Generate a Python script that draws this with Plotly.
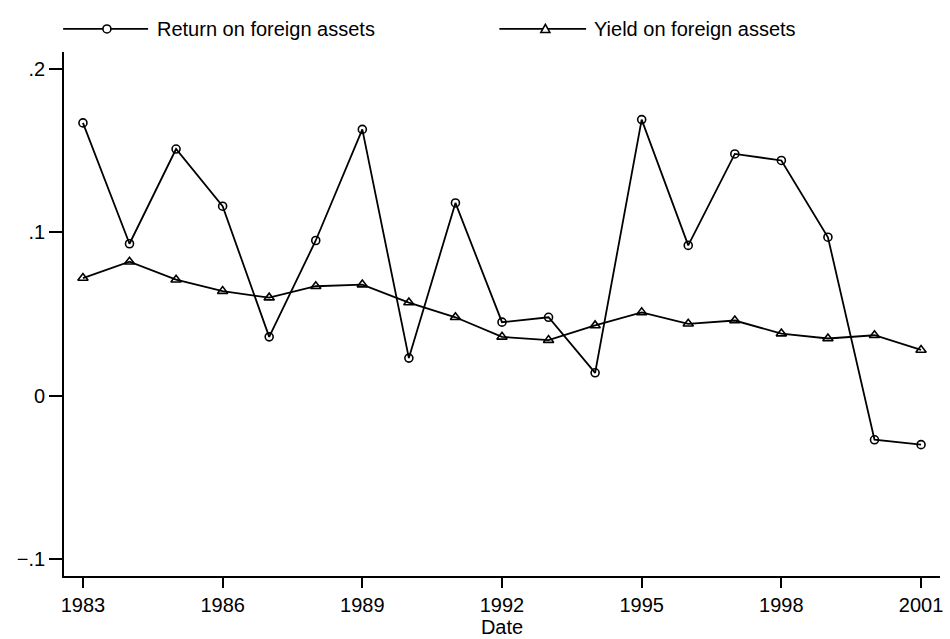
import plotly.graph_objects as go

# Annual series, 1983-2001
years = list(range(1983, 2002))
return_foreign = [0.167, 0.093, 0.151, 0.116, 0.036, 0.095, 0.163, 0.023, 0.118,
                  0.045, 0.048, 0.014, 0.169, 0.092, 0.148, 0.144, 0.097, -0.027, -0.030]
yield_foreign = [0.072, 0.082, 0.071, 0.064, 0.060, 0.067, 0.068, 0.057, 0.048,
                 0.036, 0.034, 0.043, 0.051, 0.044, 0.046, 0.038, 0.035, 0.037, 0.028]

series_names = ["Return on foreign assets", "Yield on foreign assets"]
x_tick_vals = [1983, 1986, 1989, 1992, 1995, 1998, 2001]
y_tick_vals = [0.2, 0.1, 0.0, -0.1]
y_tick_text = [".2", ".1", "0", "\u2212.1"]

FONT = "Liberation Sans, Arial, sans-serif"
INK = "black"
LW = 1.8

fig = go.Figure()
fig.add_trace(go.Scatter(
    x=years, y=return_foreign, mode="lines+markers", name=series_names[0],
    line=dict(color=INK, width=LW),
    marker=dict(symbol="circle-open", size=8, color=INK, line=dict(width=1.6)),
    showlegend=False,
))
fig.add_trace(go.Scatter(
    x=years, y=yield_foreign, mode="lines+markers", name=series_names[1],
    line=dict(color=INK, width=LW),
    marker=dict(symbol="triangle-up-open", size=9, color=INK, line=dict(width=1.6)),
    showlegend=False,
))

# Legend drawn above the plot: a line key with its marker and a label
legend_y = 1.044
keys = [
    dict(x0=-0.001, x1=0.096, xm=0.049, xt=0.104, name=series_names[0], sym="circle"),
    dict(x0=0.497, x1=0.596, xm=0.5495, xt=0.603, name=series_names[1], sym="triangle"),
]
for k in keys:
    fig.add_shape(type="line", xref="paper", yref="paper",
                  x0=k["x0"], x1=k["x1"], y0=legend_y, y1=legend_y,
                  line=dict(color=INK, width=LW))
    if k["sym"] == "circle":
        fig.add_shape(type="circle", xref="paper", yref="paper",
                      xsizemode="pixel", ysizemode="pixel",
                      xanchor=k["xm"], yanchor=legend_y,
                      x0=-4, x1=4, y0=-4, y1=4,
                      fillcolor="white", line=dict(color=INK, width=1.6))
    else:
        fig.add_shape(type="path", xref="paper", yref="paper",
                      xsizemode="pixel", ysizemode="pixel",
                      xanchor=k["xm"], yanchor=legend_y,
                      path="M -4.5,-3.5 L 4.5,-3.5 L 0,4.5 Z",
                      fillcolor="white", line=dict(color=INK, width=1.6))
    fig.add_annotation(x=k["xt"], y=legend_y, xref="paper", yref="paper",
                       text=k["name"], showarrow=False, xanchor="left",
                       yanchor="middle", font=dict(family=FONT, size=20, color=INK))

fig.update_xaxes(
    range=[1982.593, 2001.407], tickvals=x_tick_vals,
    ticks="outside", ticklen=10, tickwidth=1.8, tickcolor=INK,
    showline=True, linecolor=INK, linewidth=1.8, showgrid=False, zeroline=False,
    tickfont=dict(family=FONT, size=20, color=INK),
    title=dict(text="Date", font=dict(family=FONT, size=20, color=INK), standoff=2),
)
fig.update_yaxes(
    range=[-0.1104, 0.2104], tickvals=y_tick_vals, ticktext=y_tick_text,
    ticks="outside", ticklen=13, tickwidth=1.8, tickcolor=INK,
    showline=True, linecolor=INK, linewidth=1.8, showgrid=False, zeroline=False,
    tickfont=dict(family=FONT, size=20, color=INK),
)
fig.update_layout(
    width=950, height=639,
    margin=dict(l=64, r=7, t=52, b=61),
    plot_bgcolor="white", paper_bgcolor="white",
    font=dict(family=FONT, color=INK),
)

fig.write_html("out.html")
